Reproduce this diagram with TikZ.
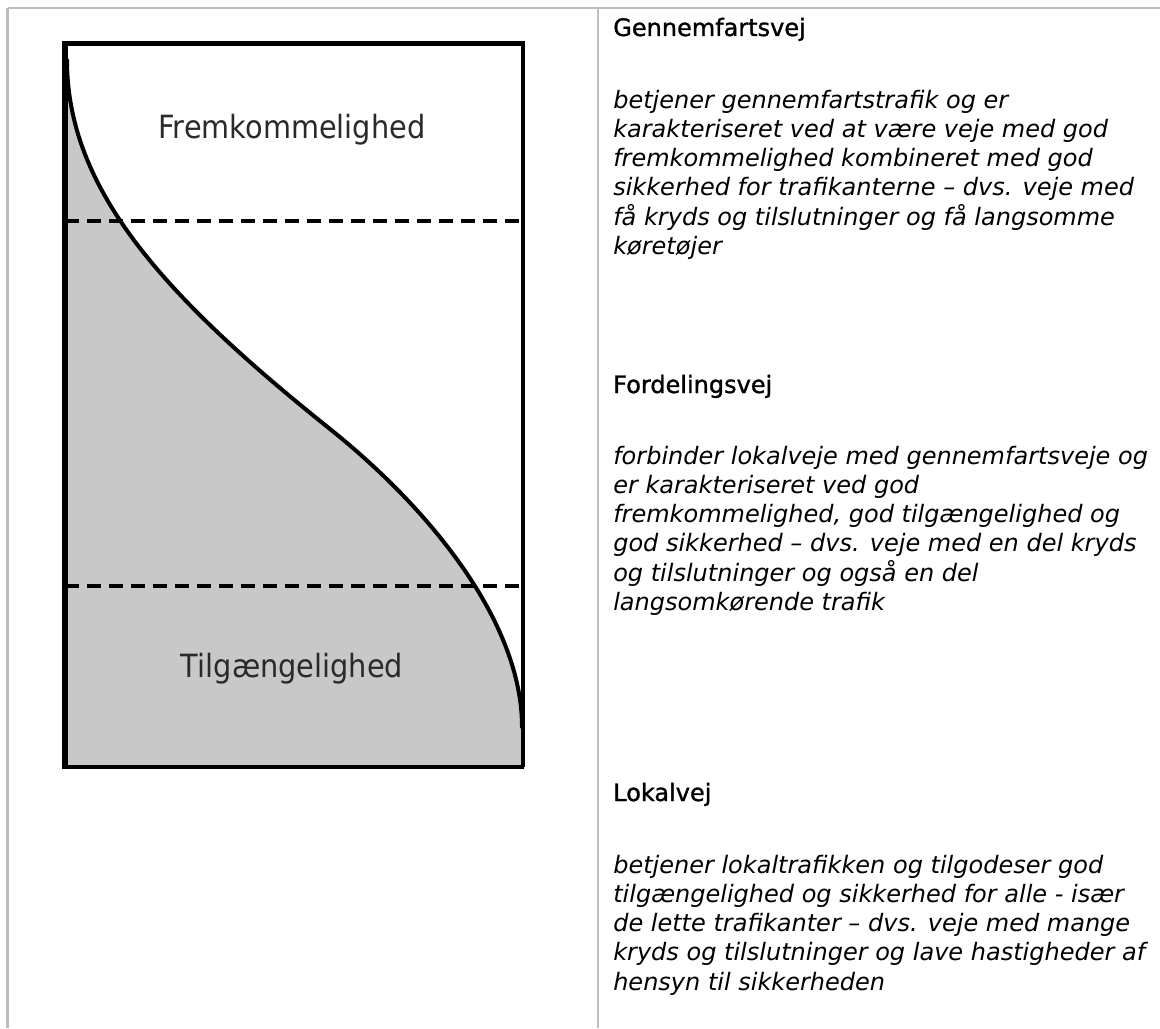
\documentclass[tikz,border=0pt]{standalone}
\usepackage{fontspec}
\setmainfont{DejaVu Sans}
\newfontfamily\labelfont[FakeStretch=0.9]{DejaVu Sans}
\newfontfamily\headfont[FakeBold=1.2]{DejaVu Sans}
\definecolor{gridgray}{HTML}{BDBDBD}
\definecolor{fillgray}{HTML}{C8C8C8}
\definecolor{labelgray}{HTML}{2A2A2A}
\begin{document}
\begin{tikzpicture}[x=0.75pt,y=-0.75pt,
  heading/.style={anchor=base west,inner sep=0pt,font=\headfont\fontsize{18}{22}\selectfont},
  bodyline/.style={anchor=base west,inner sep=0pt,font=\fontsize{18}{22}\selectfont\itshape},
  lbl/.style={anchor=base,inner sep=0pt,text=labelgray,font=\labelfont\fontsize{24}{28}\selectfont},
  tablerule/.style={draw=gridgray,line width=1.6pt},
  dashline/.style={draw=black,line width=3pt,dash pattern=on 10.5pt off 6pt},
  curveline/.style={draw=black,line width=3pt,line join=round,line cap=round}]
\useasboundingbox (0,0) rectangle (1160,1028);
% table rules
\coordinate (tl) at (7.5,8);
\coordinate (tr) at (1160,8);
\coordinate (bl) at (7.5,1028);
\coordinate (mt) at (598,8);
\coordinate (mb) at (598,1028);
\draw[tablerule] (tl) -- (tr);
\draw[tablerule] (tl) -- (bl);
\draw[tablerule] (mt) -- (mb);
% box corners
\coordinate (A) at (65,43);
\coordinate (B) at (522.5,43);
\coordinate (C) at (522.5,766.5);
\coordinate (D) at (65,766.5);
% curve key points
\coordinate (c0) at (67,60);
\coordinate (cm) at (330,429);
\coordinate (c1) at (522,727);
% filled area under curve
\fill[fillgray] (D) -- (65,60) -- (c0) .. controls (67,190) and (165,297) .. (cm) .. controls (430,509) and (522,622) .. (c1) -- (522,766) -- cycle;
% dashed lines
\coordinate (u1) at (65,221);
\coordinate (u2) at (522,221);
\coordinate (l1) at (65,586);
\coordinate (l2) at (522,586);
\draw[dashline] (u1) -- (u2);
\draw[dashline] (l1) -- (l2);
% curve
\draw[curveline] (c0) .. controls (67,190) and (165,297) .. (cm) .. controls (430,509) and (522,622) .. (c1);
% box
\draw[line width=4.2pt] (62,43.5) -- (525,43.5);
\draw[line width=3.8pt] (A) -- (D);
\draw[line width=3pt] (B) -- (C);
\draw[line width=3pt] (62,766.5) -- (524,766.5);
% labels
\node[lbl] (fremk) at (292,138) {Fremkommelighed};
\node[lbl] (tilg) at (292,677) {Tilgængelighed};
% right column
\node[heading] (h1) at (613,36) {Gennemfartsvej};
\foreach \t [count=\i from 0] in {{betjener gennemfartstrafik og er},{karakteriseret ved at være veje med god},{fremkommelighed kombineret med god},{sikkerhed for trafikanterne – dvs. veje med},{få kryds og tilslutninger og få langsomme},{køretøjer}}
  \node[bodyline] (ga\i) at (613,108+29.3*\i) {\t};
\node[heading] (h2) at (613,393) {Fordelingsvej};
\foreach \t [count=\i from 0] in {{forbinder lokalveje med gennemfartsveje og},{er karakteriseret ved god},{fremkommelighed, god tilgængelighed og},{god sikkerhed – dvs. veje med en del kryds},{og tilslutninger og også en del},{langsomkørende trafik}}
  \node[bodyline] (fa\i) at (613,464+29.3*\i) {\t};
\node[heading] (h3) at (613,801) {Lokalvej};
\foreach \t [count=\i from 0] in {{betjener lokaltrafikken og tilgodeser god},{tilgængelighed og sikkerhed for alle - især},{de lette trafikanter – dvs. veje med mange},{kryds og tilslutninger og lave hastigheder af},{hensyn til sikkerheden}}
  \node[bodyline] (la\i) at (613,873+29.3*\i) {\t};
\end{tikzpicture}
\end{document}
